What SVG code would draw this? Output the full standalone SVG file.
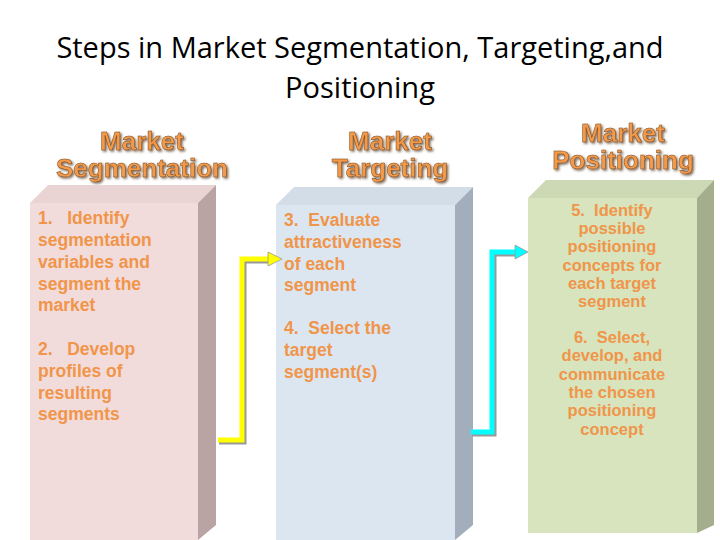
<svg xmlns="http://www.w3.org/2000/svg" width="720" height="540" viewBox="0 0 720 540">
<defs>
<filter id="sh" x="-10%" y="-20%" width="130%" height="150%"><feDropShadow dx="1.5" dy="1.5" stdDeviation="0.8" flood-color="#4a2a10" flood-opacity="0.7"/></filter>
</defs>
<style>
.t{font-family:"Open Sans","Liberation Sans",sans-serif;font-size:29px;fill:#000}
.h{font-family:"Liberation Sans",Arial,sans-serif;font-weight:bold;font-size:26px;fill:#F29A4A;stroke:#7a4a20;stroke-width:0.5;text-anchor:middle;filter:url(#sh)}
.b{font-family:"Liberation Sans",Arial,sans-serif;font-weight:bold;font-size:17.5px;fill:#F0954A}
.s{font-size:16.5px}
.c{text-anchor:middle}
</style>
<rect width="720" height="540" fill="#fff"/>
<text class="t" x="360" y="58" text-anchor="middle">Steps in Market Segmentation, Targeting,and</text>
<text class="t" x="360" y="98" text-anchor="middle">Positioning</text>
<g id="h1"><text class="h" x="142" y="150">Market</text><text class="h" x="142" y="177">Segmentation</text></g>
<g id="h2"><text class="h" x="390" y="150">Market</text><text class="h" x="390" y="177">Targeting</text></g>
<g id="h3"><text class="h" x="623" y="142">Market</text><text class="h" x="623" y="169">Positioning</text></g>
<g id="box1">
<polygon points="30,203 48,185 216,185 198,203" fill="#EAD3D3"/>
<polygon points="198,203 216,185 216,525 198,540" fill="#B9A3A3"/>
<rect x="30" y="203" width="168" height="337" fill="#F2DCDB"/>
<g class="b"><text x="38" y="224">1.&#160;&#160;&#160;Identify</text><text x="38" y="246">segmentation</text><text x="38" y="268">variables and</text><text x="38" y="290">segment the</text><text x="38" y="311">market</text>
<text x="38" y="355">2.&#160;&#160;&#160;Develop</text><text x="38" y="377">profiles of</text><text x="38" y="399">resulting</text><text x="38" y="420">segments</text></g>
</g>
<g id="box2">
<polygon points="276,205 294,187 473,187 455,205" fill="#D3DDE8"/>
<polygon points="455,205 473,187 473,525 455,540" fill="#A3AEBC"/>
<rect x="276" y="205" width="179" height="335" fill="#DCE6F1"/>
<g class="b"><text x="284" y="226">3.&#160;&#160;Evaluate</text><text x="284" y="248">attractiveness</text><text x="284" y="270">of each</text><text x="284" y="291">segment</text>
<text x="284" y="334">4.&#160;&#160;Select the</text><text x="284" y="356">target</text><text x="284" y="378">segment(s)</text></g>
</g>
<g id="box3">
<polygon points="528,198 546,180 714,180 697,198" fill="#CDD8B4"/>
<polygon points="697,198 714,180 714,525 697,533" fill="#A5AE8C"/>
<rect x="528" y="198" width="169" height="335" fill="#D7E4BD"/>
<g class="b s c">
<text x="612" y="216">5.&#160;&#160;Identify</text><text x="612" y="234">possible</text><text x="612" y="252">positioning</text><text x="612" y="271">concepts for</text><text x="612" y="289">each target</text><text x="612" y="307">segment</text>
<text x="612" y="343">6.&#160;&#160;Select,</text><text x="612" y="361">develop, and</text><text x="612" y="380">communicate</text><text x="612" y="398">the chosen</text><text x="612" y="416">positioning</text><text x="612" y="435">concept</text>
</g>
</g>
<g id="connectors">
<polyline points="219,442 244,442 244,261 270,261" fill="none" stroke="#999" stroke-width="5"/>
<polyline points="218,440 242,440 242,259 270,259" fill="none" stroke="#FFFF00" stroke-width="5"/>
<polygon points="268,252 282,259 268,266" fill="#FFFF00" stroke="#999" stroke-width="0.8"/>
<polyline points="472,434 494,434 494,254 516,254" fill="none" stroke="#999" stroke-width="5"/>
<polyline points="471,432 492,432 492,252 516,252" fill="none" stroke="#00FFFF" stroke-width="5"/>
<polygon points="515,245 528,252 515,259" fill="#00FFFF" stroke="#999" stroke-width="0.8"/>
</g>
</svg>
